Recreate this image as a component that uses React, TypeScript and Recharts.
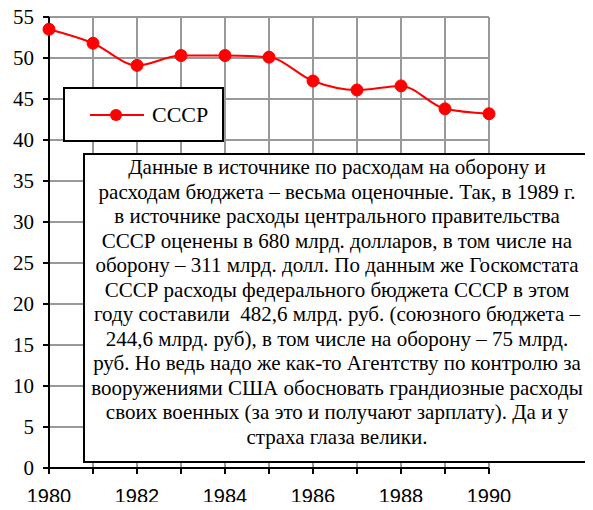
import { LineChart, Line, XAxis, YAxis, CartesianGrid } from "recharts";

const years = [1980, 1981, 1982, 1983, 1984, 1985, 1986, 1987, 1988, 1989, 1990];
const ussr = [53.5, 51.8, 49.1, 50.3, 50.3, 50.1, 47.2, 46.1, 46.6, 43.8, 43.2];
const yTicks = [0, 5, 10, 15, 20, 25, 30, 35, 40, 45, 50, 55];
const seriesName = "СССР";

const noteLines = [
  "Данные в источнике по расходам на оборону и",
  "расходам бюджета – весьма оценочные. Так, в 1989 г.",
  "в источнике расходы центрального правительства",
  "СССР оценены в 680 млрд. долларов, в том числе на",
  "оборону – 311 млрд. долл. По данным же Госкомстата",
  "СССР расходы федерального бюджета СССР в этом",
  "году составили  482,6 млрд. руб. (союзного бюджета –",
  "244,6 млрд. руб), в том числе на оборону – 75 млрд.",
  "руб. Но ведь надо же как-то Агентству по контролю за",
  "вооружениями США обосновать грандиозные расходы",
  "своих военных (за это и получают зарплату). Да и у",
  "страха глаза велики.",
];

const data = years.map((y, i) => ({ year: y, value: ussr[i] }));

const serif = '"Liberation Serif", "Times New Roman", serif';
const sans = '"Liberation Sans", Arial, sans-serif';

export default function App() {
  return (
    <div style={{ position: "relative", width: 593, height: 510, margin: -8, background: "#fff", overflow: "hidden" }}>
      <LineChart
        width={593}
        height={510}
        data={data}
        margin={{ top: 17, right: 104, bottom: 0, left: 0 }}
      >
        <CartesianGrid stroke="#999" strokeWidth={2} />
        <XAxis
          dataKey="year"
          type="number"
          domain={[1980, 1990]}
          ticks={years}
          interval={0}
          height={42}
          tickFormatter={(v: number) => (v % 2 === 0 ? String(v) : "")}
          stroke="#000"
          strokeWidth={2}
          tickSize={6}
          tickMargin={15}
          tick={{ fill: "#000", fontFamily: sans, fontSize: 20 }}
        />
        <YAxis
          type="number"
          domain={[0, 55]}
          ticks={yTicks}
          interval={0}
          width={49}
          stroke="#000"
          strokeWidth={2}
          tickSize={6}
          tickMargin={9}
          tick={{ fill: "#000", fontFamily: serif, fontSize: 21 }}
        />
        <Line
          type="monotone"
          dataKey="value"
          name={seriesName}
          stroke="#ff0000"
          strokeWidth={2}
          dot={{ r: 6, fill: "#ff0000", stroke: "#ff0000", strokeWidth: 1 }}
          isAnimationActive={false}
        />
      </LineChart>

      {/* legend */}
      <div
        style={{
          position: "absolute",
          left: 63,
          top: 87,
          width: 161,
          height: 55,
          border: "2px solid #000",
          background: "#fff",
          display: "flex",
          alignItems: "center",
          boxSizing: "border-box",
        }}
      >
        <svg width={58} height={20} style={{ marginLeft: 23 }}>
          <line x1={2} y1={10} x2={56} y2={10} stroke="#ff0000" strokeWidth={2} />
          <circle cx={28} cy={10} r={6} fill="#ff0000" />
        </svg>
        <span style={{ fontFamily: serif, fontSize: 22, marginLeft: 6, color: "#000" }}>
          {seriesName}
        </span>
      </div>

      {/* note box */}
      <div
        style={{
          position: "absolute",
          left: 83,
          top: 153,
          width: 520,
          height: 310,
          border: "2px solid #000",
          background: "#fff",
          boxSizing: "border-box",
          fontFamily: serif,
          fontSize: 21,
          lineHeight: "24.5px",
          color: "#000",
          textAlign: "center",
          paddingRight: 12,
          whiteSpace: "pre",
        }}
      >
        {noteLines.map((l, i) => (
          <div key={i}>{l}</div>
        ))}
      </div>
    </div>
  );
}
